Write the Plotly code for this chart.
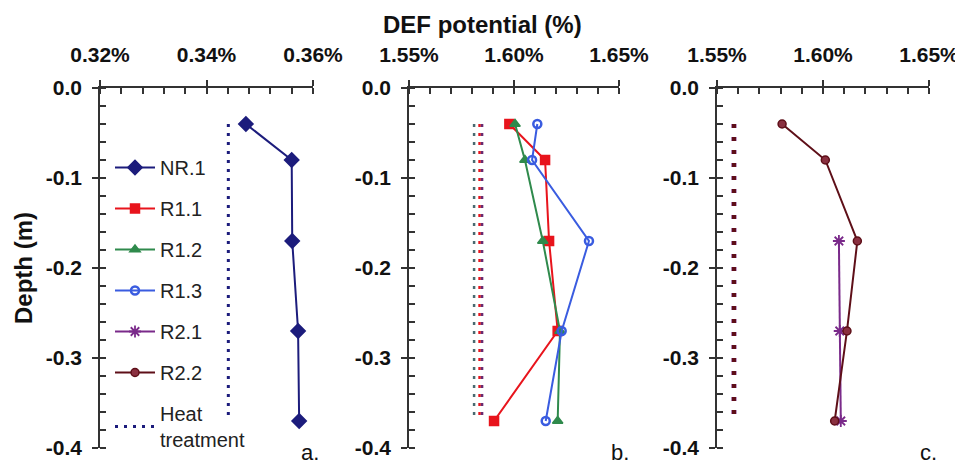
import plotly.graph_objects as go

# ---------------- data ----------------
depth = [-0.04, -0.08, -0.17, -0.27, -0.37]
r21_depth = [-0.17, -0.27, -0.37]
heat_depth = [-0.04, -0.37]

nr1 = [0.3474, 0.3560, 0.3561, 0.3572, 0.3574]
r11 = [1.5978, 1.6148, 1.6167, 1.6208, 1.5905]
r12 = [1.6005, 1.6052, 1.6137, 1.6219, 1.6208]
r13 = [1.6111, 1.6086, 1.6357, 1.6227, 1.6151]
r21 = [1.6075, 1.6079, 1.6084]
r22 = [1.5807, 1.6011, 1.6162, 1.6113, 1.6055]

heat_nr1 = 0.3441
heat_r11 = 1.5836
heat_r12 = 1.5810
heat_r13 = 1.5848
heat_r21 = 1.5580
heat_r22 = 1.5580

xticks_a = [0.32, 0.34, 0.36]
xticklabels_a = ["0.32%", "0.34%", "0.36%"]
xticks_bc = [1.55, 1.60, 1.65]
xticklabels_bc = ["1.55%", "1.60%", "1.65%"]
yticks = [0.0, -0.1, -0.2, -0.3, -0.4]
yticklabels = ["0.0", "-0.1", "-0.2", "-0.3", "-0.4"]
panel_labels = ["a.", "b.", "c."]

# ---------------- styles ----------------
C_NR1 = "#1c1c7c"
C_R11 = "#e8141c"
C_R12 = "#2f8a4c"
C_R13 = "#3a5ce0"
C_R21 = "#7a2a8a"
C_R22 = "#5e0f18"
FONT = "Liberation Sans"
AXC = "#333333"

# page has an 8px body margin: figure sized to fit the window exactly
OFF = 8
W, H = 963 - OFF, 465 - OFF

def px(p):   # page x pixel -> paper fraction
    return (p - OFF) / W

def py(p):   # page y pixel -> paper fraction
    return 1 - (p - OFF) / H

fig = go.Figure()

def series(x, y, name, color, symbol, size, xa, ya, lw=2, mlw=1.5, mcolor=None):
    fig.add_trace(go.Scatter(
        x=x, y=y, name=name, mode="lines+markers", xaxis=xa, yaxis=ya,
        line=dict(color=color, width=lw),
        marker=dict(symbol=symbol, size=size, color=mcolor or color,
                    line=dict(color=color, width=mlw)),
        legendgroup=name,
    ))

def heat(xv, name, color, xa, ya, width, dash, show=False):
    fig.add_trace(go.Scatter(
        x=[xv] * len(heat_depth), y=heat_depth, name=name, mode="lines",
        xaxis=xa, yaxis=ya, line=dict(color=color, width=width, dash=dash),
        showlegend=show, legendgroup="heat",
    ))

series(nr1, depth, "NR.1", C_NR1, "diamond", 11, "x", "y")
series(r11, depth, "R1.1", C_R11, "square", 9, "x2", "y2")
series(r12, depth, "R1.2", C_R12, "triangle-up", 9, "x2", "y2")
series(r13, depth, "R1.3", C_R13, "circle-open", 8, "x2", "y2", mlw=2.5)
series(r21, r21_depth, "R2.1", C_R21, "asterisk-open", 10, "x3", "y3", mlw=1.8)
series(r22, depth, "R2.2", C_R22, "circle", 8, "x3", "y3", mcolor="#8a3040")

heat(heat_nr1, "Heat<br>treatment", C_NR1, "x", "y", 3, "3px,6px", show=True)
heat(heat_r12, "Heat R1.2", "#4a6a70", "x2", "y2", 2.5, "3px,6px")
heat(heat_r11, "Heat R1.1", C_R11, "x2", "y2", 2.5, "3px,6px")
heat(heat_r13, "Heat R1.3", "#6a2a70", "x2", "y2", 2.5, "3px,6px")
heat(heat_r21, "Heat R2.1", C_R21, "x3", "y3", 5, "4px,9px")
heat(heat_r22, "Heat R2.2", C_R22, "x3", "y3", 4, "4px,9px")

ydom = [py(448), py(88)]
xdoms = [(px(100), px(313)), (px(409), px(619)), (px(717), px(929))]
xranges = [[0.32, 0.36], [1.55, 1.65], [1.55, 1.65]]
xtv = [xticks_a, xticks_bc, xticks_bc]
xtt = [xticklabels_a, xticklabels_bc, xticklabels_bc]
xminor = [0.004, 0.01, 0.01]

def bold(lst):
    return ["<b>%s</b>" % s for s in lst]

tickfont = dict(family=FONT, size=21, color="#111111")
layout = dict(
    width=W, height=H,
    margin=dict(l=0, r=0, t=0, b=0, autoexpand=False),
    paper_bgcolor="white", plot_bgcolor="white",
    showlegend=True,
    legend=dict(x=px(110), y=py(148), xanchor="left", yanchor="top",
                font=dict(family=FONT, size=20, color="#222222"),
                bgcolor="rgba(0,0,0,0)", tracegroupgap=12, itemwidth=40),
)

for i in range(3):
    sx = "" if i == 0 else str(i + 1)
    ox = str(i + 4)
    layout["xaxis" + sx] = dict(
        domain=list(xdoms[i]), range=xranges[i], anchor="y" + sx, side="top",
        tickmode="array", tickvals=xtv[i], ticktext=bold(xtt[i]),
        ticks="outside", ticklen=6, tickwidth=1.5, tickcolor=AXC,
        minor=dict(dtick=xminor[i], ticks="inside", ticklen=6, tickwidth=1.5,
                   tickcolor=AXC, showgrid=False),
        showline=True, linecolor=AXC, linewidth=1.5, showgrid=False,
        zeroline=False, tickfont=tickfont, ticklabelstandoff=10,
        automargin=False,
    )
    layout["yaxis" + sx] = dict(
        domain=ydom, range=[-0.4, 0.0], anchor="x" + sx,
        tickmode="array", tickvals=yticks, ticktext=bold(yticklabels),
        ticks="outside", ticklen=6, tickwidth=1.5, tickcolor=AXC,
        minor=dict(dtick=0.02, ticks="inside", ticklen=6, tickwidth=1.5,
                   tickcolor=AXC, showgrid=False),
        showline=True, linecolor=AXC, linewidth=1.5, showgrid=False,
        zeroline=False, tickfont=tickfont, ticklabelstandoff=6,
        automargin=False,
    )
    # overlay axes drawing the inner half of the major ticks
    layout["xaxis" + ox] = dict(
        overlaying="x" + sx, anchor="y" + sx, side="top", range=xranges[i],
        tickmode="array", tickvals=xtv[i], ticks="inside", ticklen=8,
        tickwidth=1.5, tickcolor=AXC, showticklabels=False, showline=False,
        showgrid=False, zeroline=False, automargin=False,
    )
    layout["yaxis" + ox] = dict(
        overlaying="y" + sx, anchor="x" + sx, side="left", range=[-0.4, 0.0],
        tickmode="array", tickvals=yticks, ticks="inside", ticklen=8,
        tickwidth=1.5, tickcolor=AXC, showticklabels=False, showline=False,
        showgrid=False, zeroline=False, automargin=False,
    )

annotations = [
    dict(text="<b>DEF potential (%)</b>", x=px(482), y=py(24),
         xanchor="center", yanchor="middle",
         xref="paper", yref="paper", showarrow=False,
         font=dict(family=FONT, size=24, color="#111111")),
    dict(text="<b>Depth (m)</b>", x=px(23), y=py(268), textangle=-90,
         xanchor="center", yanchor="middle",
         xref="paper", yref="paper", showarrow=False,
         font=dict(family=FONT, size=24, color="#111111")),
]
label_x = [310, 620, 928]
for i, lab in enumerate(panel_labels):
    annotations.append(dict(
        text=lab, x=px(label_x[i]), y=py(452), xref="paper", yref="paper",
        xanchor="center", yanchor="middle", showarrow=False,
        font=dict(family=FONT, size=22, color="#111111")))
layout["annotations"] = annotations

fig.update_layout(**layout)
fig.write_html("out.html")
